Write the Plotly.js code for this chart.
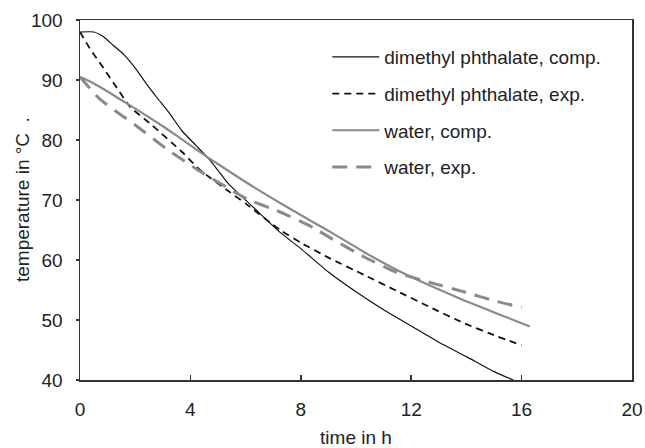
<!DOCTYPE html>
<html>
<head>
<meta charset="utf-8">
<script src="https://cdn.plot.ly/plotly-3.0.1.min.js"></script>
<style>html,body{margin:0;padding:0;background:#fff;}#chart{width:645px;height:448px;}</style>
</head>
<body>
<div id="chart"></div>
<script>
// time in h and temperature in °C
const dmpCompTime = [0, 0.5, 0.85, 1.2, 1.6, 2.05, 2.4, 2.8, 3.25, 3.7, 4.2, 4.7, 5.4, 6.3, 7.25, 8.0, 9.0, 10.0, 11.0, 12.0, 13.0, 14.0, 15.0, 15.7];
const dmpCompTemp = [98, 98, 97.2, 95.8, 94.2, 91.7, 89.4, 87, 84.4, 81.5, 79.1, 76.7, 72.6, 68.7, 64.6, 61.9, 58.0, 54.7, 51.7, 49.0, 46.3, 43.9, 41.4, 40];

const dmpExpTime = [0, 0.35, 0.85, 1.35, 1.8, 2.6, 3.7, 4.35, 5.4, 6.0, 7.25, 8.0, 9.0, 10.3, 11.5, 12.7, 13.9, 15.1, 16.0];
const dmpExpTemp = [98, 95.3, 92, 88.6, 85.6, 82.5, 78, 75, 71.4, 69.4, 65, 62.9, 60.4, 57.5, 54.8, 52.1, 49.5, 47.3, 45.8];

const waterCompTime = [0, 0.35, 0.85, 1.45, 2.05, 3.1, 3.6, 4.6, 6.0, 7.25, 8.45, 9.1, 10.3, 11.5, 12.7, 13.9, 15.1, 16.3];
const waterCompTemp = [90.5, 89.8, 88.5, 86.8, 85.1, 82, 80.4, 77.2, 73, 69.5, 66.3, 64.6, 61.3, 58.3, 55.7, 53.3, 51.1, 48.9];

const waterExpTime = [0, 0.36, 0.72, 1.45, 2.0, 3.14, 3.62, 4.17, 5.07, 6.04, 7.25, 8.45, 9.1, 10.3, 11.5, 12.8, 13.9, 15.1, 16.0];
const waterExpTemp = [90.5, 88.6, 86.8, 84.3, 82.5, 78.5, 77, 75.3, 72.8, 70.2, 68, 65.4, 63.6, 60.5, 57.9, 56.1, 54.7, 53.1, 52.1];

const seriesNames = ["dimethyl phthalate, comp.", "dimethyl phthalate, exp.", "water, comp.", "water, exp."];
const xTicks = [0, 4, 8, 12, 16, 20];
const yTicks = [40, 50, 60, 70, 80, 90, 100];
const xTitle = "time in h";
const yTitle = "temperature in °C  .";

const FONT = "Liberation Sans, Arial, sans-serif";
const BLACK = "#111111";
const GRAY = "#8a8a8a";

const traces = [
  {x: dmpCompTime, y: dmpCompTemp, name: seriesNames[0], legendgroup: "a",
   mode: "lines", line: {color: BLACK, width: 1.2, shape: "spline", smoothing: 0.5}},
  {x: dmpExpTime, y: dmpExpTemp, name: seriesNames[1], legendgroup: "b",
   mode: "lines", line: {color: BLACK, width: 1.8, dash: "7px,5px", shape: "spline", smoothing: 0.5}},
  {x: waterCompTime, y: waterCompTemp, name: seriesNames[2], legendgroup: "c",
   mode: "lines", line: {color: GRAY, width: 2.2, shape: "spline", smoothing: 0.5}},
  {x: waterExpTime, y: waterExpTemp, name: seriesNames[3], legendgroup: "d",
   mode: "lines", line: {color: GRAY, width: 3, dash: "15px,9px", shape: "spline", smoothing: 0.5}}
];

const layout = {
  width: 645, height: 448,
  margin: {l: 80, r: 13, t: 20, b: 68},
  paper_bgcolor: "#fff", plot_bgcolor: "#fff",
  font: {family: FONT, size: 19, color: "#222"},
  showlegend: true,
  legend: {x: 0.448, y: 0.95, xanchor: "left", yanchor: "top",
           bgcolor: "rgba(0,0,0,0)", borderwidth: 0, itemwidth: 47,
           tracegroupgap: 9, font: {family: FONT, size: 19, color: "#222"}},
  xaxis: {range: [0, 20], tickvals: xTicks, ticks: "inside", ticklen: 5, tickwidth: 1.5,
          tickcolor: "#333", showline: true, linecolor: "#333", linewidth: 1.5, mirror: true,
          showgrid: false, zeroline: false, ticklabelstandoff: 12,
          title: {text: xTitle, standoff: 15, font: {family: FONT, size: 19}}},
  yaxis: {range: [40, 100], tickvals: yTicks, ticks: "outside", ticklen: 3, tickwidth: 1.5,
          tickcolor: "#333", showline: true, linecolor: "#333", linewidth: 1.5, mirror: true,
          showgrid: false, zeroline: false, ticklabelstandoff: 9},
  annotations: [{text: yTitle, xref: "paper", yref: "paper", x: -0.105, y: 0.5,
                 xanchor: "center", yanchor: "middle", textangle: -90, showarrow: false,
                 font: {family: FONT, size: 19, color: "#222"}}]
};

Plotly.newPlot("chart", traces, layout, {displayModeBar: false, staticPlot: true});
</script>
</body>
</html>
